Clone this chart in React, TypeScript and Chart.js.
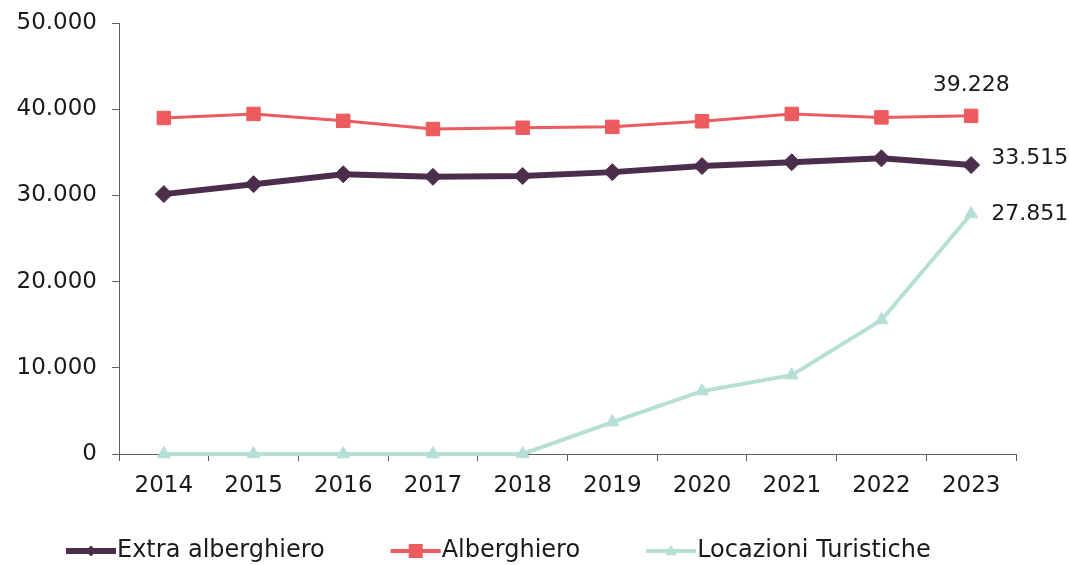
import React, { useEffect, useRef } from "react";
import { Chart, registerables } from "chart.js";

Chart.register(...registerables);

const categories = ["2014", "2015", "2016", "2017", "2018", "2019", "2020", "2021", "2022", "2023"];
const extraAlberghiero = [30150, 31300, 32450, 32150, 32250, 32700, 33400, 33850, 34300, 33515];
const alberghiero = [38980, 39450, 38650, 37700, 37850, 37950, 38600, 39450, 39050, 39228];
const locazioniTuristiche = [0, 0, 0, 0, 0, 3700, 7300, 9150, 15550, 27851];
const seriesNames = ["Extra alberghiero", "Alberghiero", "Locazioni Turistiche"];
const yTicks = [0, 10000, 20000, 30000, 40000, 50000];

const COLORS = ["#4B2E4B", "#EC5B5E", "#B6DFD6"];
const FONT = "'DejaVu Sans', sans-serif";
const TEXT = "#1a1a1a";
const AXIS = "#5f5f5f";
const FS = 23;

function fmt(v: number): string {
  const s = Math.round(v).toString();
  return s.replace(/\B(?=(\d{3})+(?!\d))/g, ".");
}

// label offsets for the last point: [dx, dy, align]
const lastLabelOffsets: Array<[number, number, CanvasTextAlign]> = [
  [20, -7, "left"],
  [0, -31, "center"],
  [20, 0, "left"],
];

const lastLabelPlugin = {
  id: "lastLabels",
  afterDatasetsDraw(chart: any) {
    const ctx = chart.ctx;
    ctx.save();
    ctx.font = `22px ${FONT}`;
    ctx.fillStyle = TEXT;
    ctx.textBaseline = "middle";
    chart.data.datasets.forEach((ds: any, i: number) => {
      const meta = chart.getDatasetMeta(i);
      const last = meta.data[meta.data.length - 1];
      if (!last) return;
      const [dx, dy, align] = lastLabelOffsets[i];
      ctx.textAlign = align;
      ctx.fillText(fmt(ds.data[ds.data.length - 1]), last.x + dx, last.y + dy);
    });
    ctx.restore();
  },
};

const legendMarkerRadius = [5.5, 7, 6];
const legendPlugin = {
  id: "customLegend",
  afterDraw(chart: any) {
    const ctx = chart.ctx;
    ctx.save();
    ctx.font = `24px ${FONT}`;
    ctx.textBaseline = "middle";
    ctx.textAlign = "left";
    const y = 551;
    let x = 66;
    const iconW = 50;
    const gap = 66;
    chart.data.datasets.forEach((ds: any, i: number) => {
      const color = ds.borderColor;
      ctx.strokeStyle = color;
      ctx.fillStyle = color;
      ctx.lineWidth = i === 0 ? 6 : 4;
      ctx.beginPath();
      ctx.moveTo(x, y);
      ctx.lineTo(x + iconW, y);
      ctx.stroke();
      const cx = x + iconW / 2;
      const r = legendMarkerRadius[i];
      ctx.beginPath();
      if (ds.pointStyle === "rectRot") {
        ctx.moveTo(cx, y - r);
        ctx.lineTo(cx + r, y);
        ctx.lineTo(cx, y + r);
        ctx.lineTo(cx - r, y);
      } else if (ds.pointStyle === "rect") {
        ctx.rect(cx - r, y - r, 2 * r, 2 * r);
      } else {
        ctx.moveTo(cx, y - r);
        ctx.lineTo(cx + r * 0.95, y + r * 0.7);
        ctx.lineTo(cx - r * 0.95, y + r * 0.7);
      }
      ctx.closePath();
      ctx.fill();
      ctx.fillStyle = TEXT;
      const tx = x + iconW + 1;
      ctx.fillText(ds.label, tx, y);
      x = tx + ctx.measureText(ds.label).width + gap;
    });
    ctx.restore();
  },
};

export default function App() {
  const ref = useRef<HTMLCanvasElement | null>(null);

  useEffect(() => {
    document.body.style.margin = "0";
    const canvas = ref.current;
    if (!canvas) return;
    const chart = new Chart(canvas, {
      type: "line",
      data: {
        labels: categories,
        datasets: [
          {
            label: seriesNames[0],
            data: extraAlberghiero,
            borderColor: COLORS[0],
            backgroundColor: COLORS[0],
            borderWidth: 6,
            pointStyle: "rectRot",
            pointRadius: 8.5,
            pointBorderWidth: 1,
            tension: 0,
            clip: false,
          },
          {
            label: seriesNames[1],
            data: alberghiero,
            borderColor: COLORS[1],
            backgroundColor: COLORS[1],
            borderWidth: 3,
            pointStyle: "rect",
            pointRadius: 9.5,
            pointBorderWidth: 1,
            tension: 0,
            clip: false,
          },
          {
            label: seriesNames[2],
            data: locazioniTuristiche,
            borderColor: COLORS[2],
            backgroundColor: COLORS[2],
            borderWidth: 4,
            pointStyle: "triangle",
            pointRadius: 7.5,
            pointBorderWidth: 1,
            tension: 0,
            clip: false,
          },
        ],
      },
      options: {
        responsive: false,
        animation: false,
        devicePixelRatio: 1,
        layout: { padding: { top: 23, right: 53, bottom: 0, left: 0 } },
        plugins: {
          legend: { display: false },
          tooltip: { enabled: false },
        },
        scales: {
          x: {
            type: "category",
            offset: true,
            afterFit: (s: any) => {
              s.height = 111;
              s.paddingLeft = 0;
              s.paddingRight = 0;
            },
            grid: {
              offset: true,
              drawOnChartArea: false,
              drawTicks: true,
              tickLength: 7,
              tickColor: AXIS,
              tickWidth: 1,
            },
            border: { display: true, color: AXIS, width: 1 },
            ticks: {
              color: TEXT,
              font: { family: FONT, size: FS },
              padding: 11,
              maxRotation: 0,
              autoSkip: false,
            },
          },
          y: {
            min: 0,
            max: 50000,
            afterFit: (s: any) => {
              s.width = 119;
              s.paddingTop = 0;
              s.paddingBottom = 0;
            },
            afterBuildTicks: (s: any) => {
              s.ticks = yTicks.map((v) => ({ value: v }));
            },
            grid: {
              drawOnChartArea: false,
              drawTicks: true,
              tickLength: 7,
              tickColor: AXIS,
              tickWidth: 1,
            },
            border: { display: true, color: AXIS, width: 1 },
            ticks: {
              color: TEXT,
              font: { family: FONT, size: FS },
              padding: 15,
              callback: (v: any) => fmt(Number(v)),
            },
          },
        },
      },
      plugins: [lastLabelPlugin, legendPlugin],
    });
    return () => chart.destroy();
  }, []);

  return (
    <div style={{ position: "absolute", left: 0, top: 0, width: 1069, height: 565, background: "#fff" }}>
      <canvas ref={ref} width={1069} height={565} style={{ display: "block" }} />
    </div>
  );
}
